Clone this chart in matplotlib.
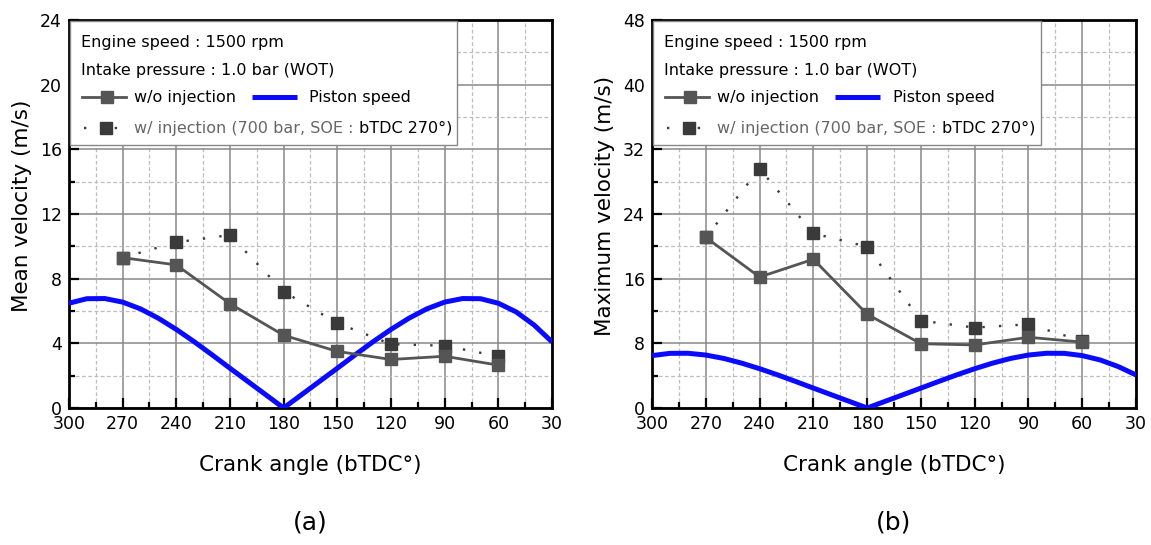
import matplotlib
matplotlib.use("Agg")
import matplotlib.pyplot as plt
from matplotlib.lines import Line2D
from matplotlib.patches import Rectangle
import numpy as np

plt.rcParams["font.family"] = ["DejaVu Sans"]

# measured points (crank angle bTDC)
CA_POINTS = [270, 240, 210, 180, 150, 120, 90, 60]
MEAN_WO = [9.3, 8.85, 6.45, 4.5, 3.5, 3.0, 3.2, 2.65]
MEAN_W = [9.3, 10.25, 10.7, 7.2, 5.25, 3.95, 3.85, 3.2]
MAX_WO = [21.1, 16.2, 18.4, 11.6, 7.95, 7.8, 8.75, 8.15]
MAX_W = [21.1, 29.6, 21.6, 19.95, 10.8, 9.95, 10.35, 8.3]

# piston speed, every 10 deg
CA_PISTON = [300, 290, 280, 270, 260, 250, 240, 230, 220, 210, 200, 190, 180,
             170, 160, 150, 140, 130, 120, 110, 100, 90, 80, 70, 60, 50, 40, 30]
PISTON = [6.48, 6.76, 6.77, 6.55, 6.13, 5.55, 4.86, 4.10, 3.29, 2.46, 1.64, 0.82, 0.0,
          0.82, 1.64, 2.46, 3.29, 4.10, 4.86, 5.55, 6.13, 6.55, 6.77, 6.76, 6.48, 5.94, 5.13, 4.09]

X_TICKS = [300, 270, 240, 210, 180, 150, 120, 90, 60, 30]

GRAY_WO = "#555555"
GRAY_W = "#3a3a3a"
BLUE = "#0a0aff"
DOTS = (0, (1, 6))
MS = 8


def panel(ax, wo, w, ymax, ystep, ylabel, tag):
    ax.plot(CA_PISTON, PISTON, color=BLUE, lw=3.6, solid_capstyle="butt", zorder=3)
    ax.plot(CA_POINTS, w, color=GRAY_W, lw=1.7, ls=DOTS, marker="s", ms=MS,
            mfc=GRAY_W, mec=GRAY_W, zorder=4)
    ax.plot(CA_POINTS, wo, color=GRAY_WO, lw=2.0, marker="s", ms=MS,
            mfc=GRAY_WO, mec=GRAY_WO, zorder=5)

    ax.set_xlim(300, 30)
    ax.set_ylim(0, ymax)
    ax.set_xticks(X_TICKS)
    ax.set_xticks(np.arange(285, 30, -30), minor=True)
    ax.set_yticks(np.arange(0, ymax + 0.1, ystep))
    ax.set_yticks(np.arange(ystep / 2, ymax, ystep), minor=True)
    ax.tick_params(which="both", direction="in", top=False, right=False, width=1.6)
    ax.tick_params(which="major", length=7, labelsize=12.5, pad=5)
    ax.tick_params(which="minor", length=4)
    ax.grid(which="major", color="#888888", lw=1.1, ls="-")
    ax.grid(which="minor", color="#bdbdbd", lw=0.9, ls=(0, (3, 2)))
    ax.set_axisbelow(True)
    for sp in ax.spines.values():
        sp.set_linewidth(2.0)
        sp.set_color("black")
    ax.set_xlabel("Crank angle (bTDC°)", fontsize=15.5, labelpad=16)
    ax.set_ylabel(ylabel, fontsize=15.5)
    ax.yaxis.set_label_coords(-0.077, 0.52)

    # legend box, drawn by hand so the two-tone text fits
    tr = ax.transAxes
    ax.add_patch(Rectangle((0.002, 0.678), 0.801, 0.319, transform=tr, facecolor="white",
                           edgecolor="#888888", lw=1.0, zorder=8))
    fs = 11.5
    ax.text(0.025, 0.9425, "Engine speed : 1500 rpm", transform=tr, fontsize=fs,
            va="center", zorder=9)
    ax.text(0.025, 0.871, "Intake pressure : 1.0 bar (WOT)", transform=tr, fontsize=fs,
            va="center", zorder=9)
    y1, y2 = 0.801, 0.721
    ax.add_line(Line2D([0.027, 0.118], [y1, y1], transform=tr, color=GRAY_WO, lw=2.0,
                       zorder=9))
    ax.add_line(Line2D([0.079], [y1], transform=tr, color=GRAY_WO, marker="s", ms=MS,
                       ls="none", zorder=10))
    ax.text(0.135, y1, "w/o injection", transform=tr, fontsize=fs, va="center", zorder=9)
    ax.add_line(Line2D([0.379, 0.472], [y1, y1], transform=tr, color=BLUE, lw=3.6,
                       solid_capstyle="butt", zorder=9))
    ax.text(0.497, y1, "Piston speed", transform=tr, fontsize=fs, va="center", zorder=9)
    ax.add_line(Line2D([0.031, 0.118], [y2, y2], transform=tr, color=GRAY_W, lw=1.7,
                       ls=(0, (1, 12)), zorder=9))
    ax.add_line(Line2D([0.077], [y2], transform=tr, color=GRAY_W, marker="s", ms=MS,
                       ls="none", zorder=10))
    t1 = ax.text(0.135, y2, "w/ injection (700 bar, SOE : ", transform=tr, fontsize=fs,
                 va="center", color="#666666", zorder=9)
    ax.annotate("bTDC 270°)", xycoords=t1, xy=(1, 0.5), va="center", fontsize=fs,
                color="black", zorder=9)

    ax.text(0.5, -0.294, tag, transform=tr, fontsize=18, ha="center", va="center")


fig = plt.figure(figsize=(11.51, 5.45), dpi=100)
ax1 = fig.add_axes([0.0599, 0.2514, 0.4197, 0.7119])
ax2 = fig.add_axes([0.5665, 0.2514, 0.4205, 0.7119])
panel(ax1, MEAN_WO, MEAN_W, 24, 4, "Mean velocity (m/s)", "(a)")
panel(ax2, MAX_WO, MAX_W, 48, 8, "Maximum velocity (m/s)", "(b)")
fig.savefig("out.png", dpi=100)
